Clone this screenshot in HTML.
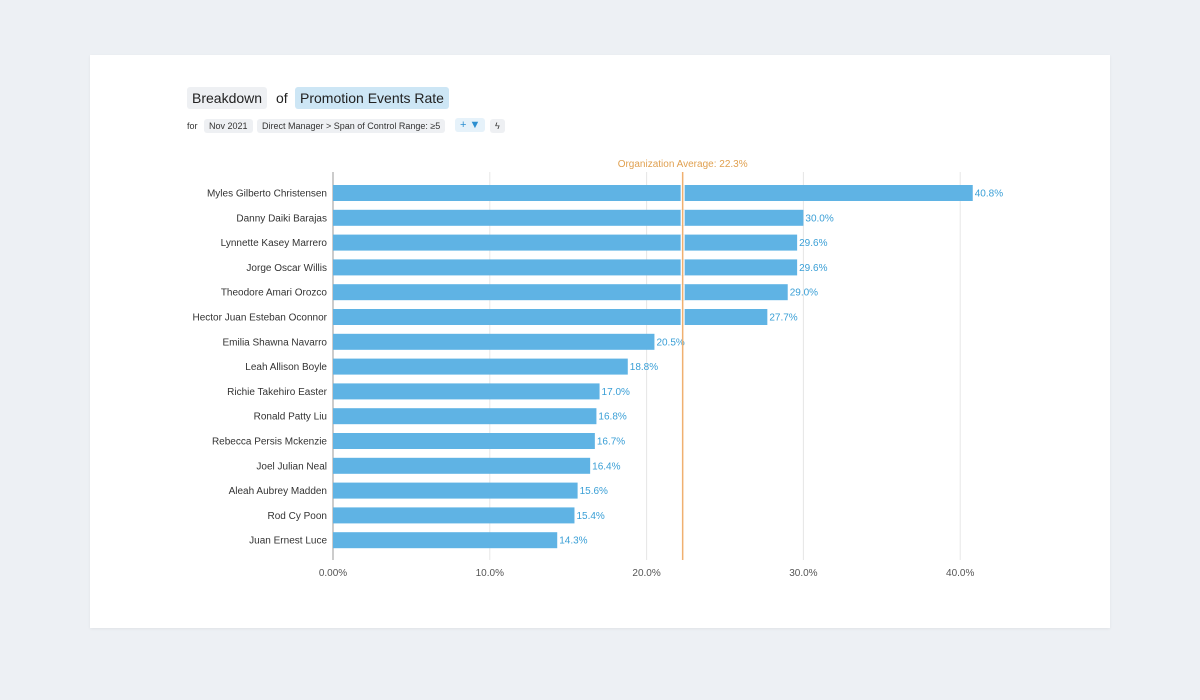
<!DOCTYPE html>
<html><head><meta charset="utf-8"><style>
body{margin:0;width:1200px;height:700px;background:#edf0f4;font-family:"Liberation Sans",sans-serif;position:relative;overflow:hidden}
.card{position:absolute;left:90px;top:55px;width:1020px;height:573px;background:#fff;box-shadow:0 1px 3px rgba(0,0,0,.06)}
.t{position:absolute;font-size:14px;color:#222}
.chip{position:absolute;background:#eef0f3;border-radius:3px;font-size:9px;color:#333;padding:2px 5px}
</style></head><body>
<div class="card"></div>
<div class="t" style="left:187px;top:87px;background:#eef0f3;padding:3px 5px;border-radius:3px">Breakdown</div>
<div class="t" style="left:276px;top:90px">of</div>
<div class="t" style="left:295px;top:87px;background:#cde6f5;padding:3px 5px;border-radius:3px">Promotion Events Rate</div>
<div class="chip" style="left:182px;top:119px;background:none">for</div>
<div class="chip" style="left:204px;top:119px">Nov 2021</div>
<div class="chip" style="left:257px;top:119px">Direct Manager &gt; Span of Control Range: ≥5</div>
<div class="chip" style="left:455px;top:118px;background:#e6f2fa;color:#2d8fd0;font-size:11px;padding:1px 5px">+ ▼</div>
<div class="chip" style="left:490px;top:119px">ϟ</div>
<svg id="c" width="1200" height="700" style="position:absolute;left:0;top:0"></svg>
<script>
const names=["Myles Gilberto Christensen","Danny Daiki Barajas","Lynnette Kasey Marrero","Jorge Oscar Willis","Theodore Amari Orozco","Hector Juan Esteban Oconnor","Emilia Shawna Navarro","Leah Allison Boyle","Richie Takehiro Easter","Ronald Patty Liu","Rebecca Persis Mckenzie","Joel Julian Neal","Aleah Aubrey Madden","Rod Cy Poon","Juan Ernest Luce"];
const values=[40.8,30.0,29.6,29.6,29.0,27.7,20.5,18.8,17.0,16.8,16.7,16.4,15.6,15.4,14.3];
const ticks=[0,10,20,30,40];
const tickLabels=["0.00%","10.0%","20.0%","30.0%","40.0%"];
const orgAvg=22.3;
const svg=document.getElementById('c');const NS='http://www.w3.org/2000/svg';
const x=v=>333+v*15.68;
const y=i=>193+i*24.8;
function mk(t,a,txt){const e=document.createElementNS(NS,t);for(const k in a)e.setAttribute(k,a[k]);if(txt!=null)e.textContent=txt;svg.appendChild(e);return e;}
ticks.forEach((t,i)=>{
 const g=mk('line',{x1:x(t),x2:x(t),y1:172,y2:560,stroke:i==0?'#999':'#e6e6e6','stroke-width':1});
 
 
 const l=mk('text',{x:x(t),y:576,'text-anchor':'middle','font-size':10,fill:'#555','font-family':'Liberation Sans'},tickLabels[i]);
 
 
});
values.forEach((v,i)=>{
 const b=mk('rect',{x:x(0),y:y(i)-8,width:x(v)-x(0),height:16,fill:'#5fb3e4'});
 
 
 if(v>orgAvg){
  const h=mk('rect',{x:x(orgAvg)-2,y:y(i)-8,width:4,height:16,fill:'#fff'});
  
  
 }
 const n=mk('text',{x:327,y:y(i)+3.5,'text-anchor':'end','font-size':10,fill:'#333','font-family':'Liberation Sans'},names[i]);
 
 
 const vl=mk('text',{x:x(v)+2,y:y(i)+3.5,'font-size':10,fill:'#3a9fd6','font-family':'Liberation Sans'},v.toFixed(1)+'%');
 
 
});
const a=mk('line',{x1:x(orgAvg),x2:x(orgAvg),y1:172,y2:560,stroke:'#f0b070','stroke-width':1.5});


const at=mk('text',{x:x(orgAvg),y:167,'text-anchor':'middle','font-size':10,fill:'#e0a050','font-family':'Liberation Sans'},'Organization Average: '+orgAvg+'%');


</script>
</body></html>
